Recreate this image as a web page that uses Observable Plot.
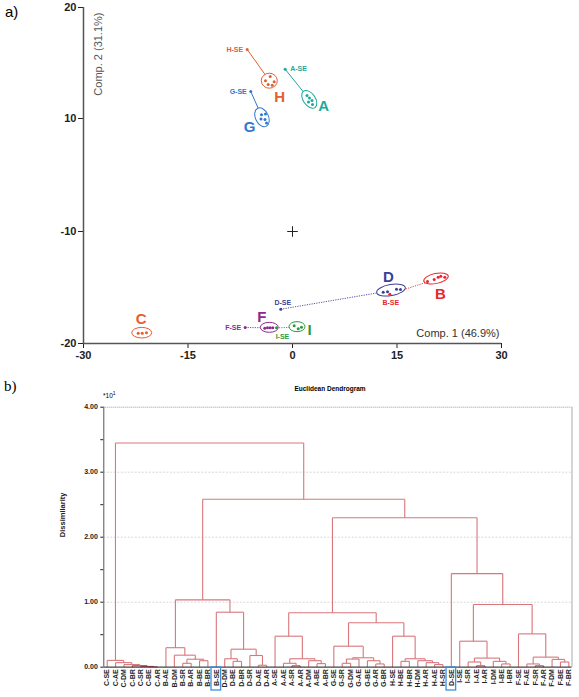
<!DOCTYPE html>
<html><head><meta charset="utf-8">
<script src="https://cdn.jsdelivr.net/npm/d3@7"></script>
<script src="https://cdn.jsdelivr.net/npm/@observablehq/plot@0.6"></script>
<style>
body{margin:0;background:#fff}
#wrap{position:relative;width:579px;height:697px;overflow:hidden;font-family:"Liberation Sans",Arial,sans-serif;background:#fff}
.abs{position:absolute;white-space:nowrap;line-height:1}
</style></head><body>
<div id="wrap">
<div id="pa" class="abs" style="left:0;top:0"></div>
<div id="pb" class="abs" style="left:0;top:375px"></div>
<div class="abs" style="left:5px;top:4px;font-size:15px">a)</div>
<div class="abs" style="left:4px;top:379px;font-size:15px;font-family:'Liberation Serif',serif">b)</div>
<div class="abs" style="left:330px;top:386px;font-size:6.5px;font-weight:bold;transform:translateX(-50%)">Euclidean Dendrogram</div>
<div class="abs" style="left:103px;top:391px;font-size:6.5px">*10<span style="font-size:5px;vertical-align:3px">1</span></div>
</div>
<script>
// ---------- Panel a data ----------
const xTicks = [-30, -15, 0, 15, 30];
const yTicks = [20, 10, -10, -20];
const yBreaks = [-20, -10, 10, 20];
const xTitle = "Comp. 1 (46.9%)";
const yTitle = "Comp. 2 (31.1%)";

const clusters = ["H", "A", "G", "D", "B", "F", "I", "C"];
const clusterX = [-3.26, 2.48, -4.31, 14.21, 20.67, -3.26, 0.72, -21.57];
const clusterY = [13.36, 11.68, 10.06, -15.27, -14.24, -18.60, -18.54, -19.08];

const seLabels = ["H-SE", "A-SE", "G-SE", "D-SE", "B-SE", "F-SE", "I-SE"];
const seCluster = ["H", "A", "G", "D", "B", "F", "I"];
const seX = [-6.50, -1.05, -5.99, -1.68, 13.97, -6.79, -2.30];
const seY = [16.22, 14.44, 12.43, -16.94, -15.60, -18.57, -18.60];

const repCluster = ["H","H","H","H","H","A","A","A","A","A","G","G","G","G","G","D","D","D","D","B","B","B","B","B","F","F","F","F","I","I","I","C","C","C"];
const repX = [-3.20,-3.88,-2.63,-3.49,-2.91, 2.08,2.44,2.80,2.30,2.87, -4.45,-3.88,-4.52,-3.95,-3.73, 13.02,13.64,14.93,15.50, 19.38,20.34,20.91,21.29,21.86, -3.98,-3.59,-3.20,-2.83, 0.24,0.82,1.29, -22.15,-21.57,-20.96];
const repY = [13.78,13.40,13.31,13.06,13.00, 12.07,11.85,11.62,11.49,11.26, 10.33,10.41,9.91,9.82,9.20, -15.42,-15.38,-15.15,-15.18, -14.46,-14.29,-14.08,-13.99,-14.08, -18.63,-18.60,-18.60,-18.60, -18.42,-18.69,-18.54, -19.08,-19.08,-19.04];

const originX = [0];
const originY = [-10];

// ---------- Panel b data ----------
const leaves = ["C-SE","C-AE","C-DM","C-BR","C-SR","C-BE","C-AR","B-AE","B-DM","B-SR","B-AR","B-BE","B-BR","B-SE","D-DM","D-BE","D-BR","D-SR","D-AE","D-AR","A-SE","A-AE","A-SR","A-AR","A-DM","A-BE","A-BR","G-SE","G-SR","G-DM","G-AE","G-BE","G-AR","G-BR","H-SE","H-BE","H-BR","H-DM","H-AR","H-AE","H-SR","D-SE","I-SE","I-SR","I-AE","I-AR","I-DM","I-BE","I-BR","F-SE","F-AE","F-SR","F-AR","F-DM","F-BE","F-BR"];
// merges: [id, left, right, height (x10^1)]
const merges = [
  ["c1","C-BE","C-AR",0.005],["c2","C-SR","c1",0.012],["c3","C-BR","c2",0.022],["c4","C-DM","c3",0.04],["c5","C-AE","c4",0.07],["cC","C-SE","c5",0.105],
  ["b1","B-SR","B-AR",0.06],["b2","B-BE","B-BR",0.10],["b3","b1","b2",0.123],["b4","B-DM","b3",0.185],["bB","B-AE","b4",0.30],
  ["d1","D-BE","D-BR",0.09],["d2","D-DM","d1",0.13],["d3","D-AE","D-AR",0.03],["d4","D-SR","d3",0.18],["dD","d2","d4",0.277],
  ["bd1","B-SE","dD",0.846],["bd","bB","bd1",1.036],
  ["a1","A-SR","A-AR",0.02],["a2","A-AE","a1",0.06],["a3","A-BE","A-BR",0.055],["a4","A-DM","a3",0.10],["a5","a2","a4",0.13],["aA","A-SE","a5",0.477],
  ["g1","G-SR","G-DM",0.06],["g2","g1","G-AE",0.125],["g3","G-AR","G-BR",0.05],["g4","G-BE","g3",0.10],["g5","g2","g4",0.145],["gG","G-SE","g5",0.323],
  ["h1","H-BE","H-BR",0.09],["h2","H-AE","H-SR",0.04],["h3","H-AR","h2",0.07],["h4","H-DM","h3",0.10],["h5","h1","h4",0.13],["hH","H-SE","h5",0.477],
  ["gh","gG","hH",0.683],["agh","aA","gh",0.837],
  ["i1","I-AE","I-AR",0.02],["i2","I-SR","i1",0.08],["i3","I-BE","I-BR",0.05],["i4","I-DM","i3",0.09],["i5","i2","i4",0.14],["iI","I-SE","i5",0.40],
  ["f1","F-SR","F-AR",0.02],["f2","F-AE","f1",0.05],["f3","F-BE","F-BR",0.08],["f4","F-DM","f3",0.12],["f5","f2","f4",0.155],["fF","F-SE","f5",0.513],
  ["if","iI","fF",0.965],["dif","D-SE","if",1.44],
  ["n3","agh","dif",2.30],["n2","bd","n3",2.585],["root","cC","n2",3.45]
];
const boxedLeaves = ["B-SE", "D-SE"];
const dendroTicks = [0, 0.5, 1, 1.5, 2, 2.5, 3, 3.5, 4];
const dendroGrid = [1, 2, 3];

// ---------- styles ----------
const ns = "http://www.w3.org/2000/svg";
const color = {H:"#e0612f", A:"#1ea89d", G:"#2f77d0", D:"#3b3f98", B:"#e8262c", F:"#8c2b8e", I:"#2c9a3c", C:"#ea5b2c"};
const ellipseStyle = {H:{rx:8,ry:7.5,rot:0}, A:{rx:10,ry:6,rot:55}, G:{rx:10,ry:6.5,rot:65}, D:{rx:14.5,ry:5.5,rot:-10}, B:{rx:12.5,ry:5,rot:-12}, F:{rx:9,ry:5,rot:0}, I:{rx:8,ry:5,rot:0}, C:{rx:10,ry:5.3,rot:0}};
const letterOffset = {H:[10,16], A:[14,6], G:[-13,9], D:[-3,-13], B:[4,15], F:[-8,-11], I:[12,3], C:[-1,-14]};
const seLabelStyle = {"H-SE":{a:"end",dx:-4,dy:0}, "A-SE":{a:"start",dx:5,dy:0}, "G-SE":{a:"end",dx:-4,dy:0}, "D-SE":{a:"middle",dx:2,dy:-6}, "B-SE":{a:"middle",dx:1,dy:9}, "F-SE":{a:"end",dx:-4,dy:0}, "I-SE":{a:"middle",dx:6,dy:8.5}};
const dotted = {D:true, B:true, F:true, I:true};

const font = '"Liberation Sans", Arial, sans-serif';

// ---------- Panel a ----------
const cl = clusters.map((c, i) => ({c, x: clusterX[i], y: clusterY[i]}));
const se = seLabels.map((l, i) => ({l, c: seCluster[i], x: seX[i], y: seY[i], cx: clusterX[clusters.indexOf(seCluster[i])], cy: clusterY[clusters.indexOf(seCluster[i])]}));
const reps = repCluster.map((c, i) => ({c, x: repX[i], y: repY[i]}));

const ellipseMark = (index, scales) => {
  const g = document.createElementNS(ns, "g");
  cl.forEach(d => {
    const s = ellipseStyle[d.c];
    const cx = scales.x(d.x), cy = scales.y(d.y);
    const e = document.createElementNS(ns, "ellipse");
    e.setAttribute("cx", cx); e.setAttribute("cy", cy);
    e.setAttribute("rx", s.rx); e.setAttribute("ry", s.ry);
    e.setAttribute("transform", `rotate(${s.rot},${cx},${cy})`);
    e.setAttribute("fill", "white");
    e.setAttribute("stroke", color[d.c]);
    e.setAttribute("stroke-width", 1);
    g.appendChild(e);
  });
  return g;
};

const marksA = [
  Plot.ruleX([xTicks[0]], {stroke: "#555", strokeWidth: 1.5}),
  Plot.ruleY([yBreaks[0]], {stroke: "#555", strokeWidth: 1.5}),
  ...se.map(d => Plot.link([d], {x1: "x", y1: "y", x2: "cx", y2: "cy", stroke: color[d.c], strokeWidth: dotted[d.c] ? 0.9 : 1, strokeDasharray: dotted[d.c] ? "1.2,1.2" : null})),
  ellipseMark,
  Plot.dot(reps, {x: "x", y: "y", r: 1.5, fill: d => color[d.c]}),
  Plot.dot(se, {x: "x", y: "y", r: 1.5, fill: d => color[d.c]}),
  ...se.map(d => Plot.text([d], {x: "x", y: "y", text: "l", fill: color[d.c], fontSize: 7, fontWeight: "bold", textAnchor: seLabelStyle[d.l].a, dx: seLabelStyle[d.l].dx, dy: seLabelStyle[d.l].dy})),
  ...cl.map(d => Plot.text([d], {x: "x", y: "y", text: "c", fill: color[d.c], fontSize: 15, fontWeight: "bold", dx: letterOffset[d.c][0], dy: letterOffset[d.c][1]})),
  Plot.dot(originX.map((v, i) => ({x: v, y: originY[i]})), {x: "x", y: "y", symbol: "plus", r: 3.5, stroke: "#222", strokeWidth: 1}),
  Plot.text([yTitle], {frameAnchor: "top-left", text: d => d, rotate: -90, textAnchor: "end", dx: 11, dy: 5, fill: "#555", fontSize: 11, fontWeight: "normal"}),
  Plot.text([xTitle], {frameAnchor: "bottom-right", text: d => d, textAnchor: "end", dx: -2, dy: -7, fill: "#333", fontSize: 11, fontWeight: "normal"})
];

const plotA = Plot.plot({
  width: 579, height: 375,
  marginLeft: 83, marginRight: 78, marginTop: 7, marginBottom: 32,
  style: {fontFamily: font, fontSize: "11px", fontWeight: "bold", color: "#222", background: "white"},
  x: {domain: [xTicks[0], xTicks[xTicks.length - 1]], ticks: xTicks, tickFormat: d => String(d), tickSize: 5, tickPadding: 3, label: null},
  y: {type: "linear", domain: yBreaks, range: [343, 231, 118, 7], ticks: yTicks, tickFormat: d => String(d), tickSize: 5, tickPadding: 2, label: null},
  marks: marksA
});
document.getElementById("pa").appendChild(plotA);

// ---------- Panel b ----------
const pos = new Map();
leaves.forEach((l, i) => pos.set(l, {x: i, h: 0}));
const segs = [];
for (const [id, a, b, h] of merges) {
  const A = pos.get(a), B = pos.get(b);
  segs.push({x1: A.x, y1: A.h, x2: A.x, y2: h, h});
  segs.push({x1: B.x, y1: B.h, x2: B.x, y2: h, h});
  segs.push({x1: A.x, y1: h, x2: B.x, y2: h, h});
  pos.set(id, {x: (A.x + B.x) / 2, h});
}
const xDom = [-0.405, leaves.length - 1 + 0.375];

const boxMark = (index, scales) => {
  const g = document.createElementNS(ns, "g");
  boxedLeaves.forEach(name => {
    const i = leaves.indexOf(name);
    const r = document.createElementNS(ns, "rect");
    r.setAttribute("x", scales.x(i) - 4.8);
    r.setAttribute("y", scales.y(0) + 0.3);
    r.setAttribute("width", 9.6);
    r.setAttribute("height", 23);
    r.setAttribute("fill", "none");
    r.setAttribute("stroke", "#3d8fdc");
    r.setAttribute("stroke-width", 1.3);
    g.appendChild(r);
  });
  return g;
};

const plotB = Plot.plot({
  width: 579, height: 322,
  marginLeft: 103.3, marginRight: 7.5, marginTop: 31.7, marginBottom: 30.3,
  style: {fontFamily: font, fontSize: "7px", fontWeight: "bold", color: "#222", background: "white"},
  x: {domain: xDom, ticks: d3.range(leaves.length), tickFormat: i => leaves[i], tickRotate: -90, tickSize: 0, tickPadding: 2, label: null},
  y: {domain: [dendroTicks[0], dendroTicks[dendroTicks.length - 1]], ticks: dendroTicks, tickFormat: d => d % 1 === 0 ? d.toFixed(2) : "", tickSize: 3, tickPadding: 3, label: null},
  marks: [
    Plot.ruleY(dendroGrid, {stroke: "#d8d8d8", strokeDasharray: "2,1.5"}),
    Plot.ruleY([dendroTicks[dendroTicks.length - 1]], {stroke: "#999", strokeDasharray: "1,1"}),
    Plot.ruleX([xDom[1]], {stroke: "#aaa"}),
    Plot.link(segs, {x1: "x1", y1: "y1", x2: "x2", y2: "y2", stroke: d => d.h < 0.03 ? "#b8353a" : "#d8767b", strokeWidth: 1.1}),
    Plot.ruleX([xDom[0]], {stroke: "#555", strokeWidth: 1}),
    Plot.ruleY([dendroTicks[0]], {stroke: "#444", strokeWidth: 1.2}),
    boxMark,
    Plot.text(["Dissimilarity"], {frameAnchor: "left", text: d => d, rotate: -90, dx: -41, fontSize: 7.5, fontWeight: "bold", fill: "#222"})
  ]
});
document.getElementById("pb").appendChild(plotB);
</script>
</body></html>
